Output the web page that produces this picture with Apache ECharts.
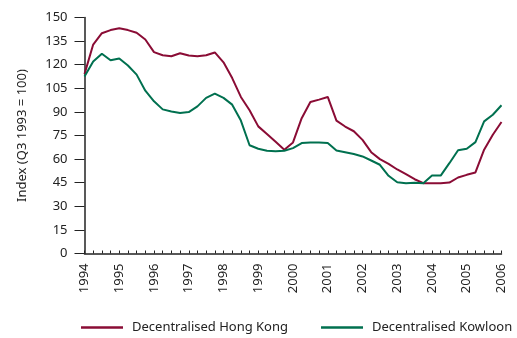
<!DOCTYPE html>
<html>
<head>
<meta charset="utf-8">
<script src="https://cdn.jsdelivr.net/npm/echarts@6/dist/echarts.min.js"></script>
<style>html,body{margin:0;padding:0;background:#fff}#c{width:517px;height:338px}</style>
</head>
<body>
<div id="c"></div>
<script>
// Quarterly categories 1994 Q1 .. 2006 Q1
const years = [1994,1995,1996,1997,1998,1999,2000,2001,2002,2003,2004,2005,2006];
const categories = [];
years.forEach(function(y, k){
  const nq = (k === years.length - 1) ? 1 : 4;
  for (let q = 1; q <= nq; q++) categories.push(y + ' Q' + q);
});
const hongKong = [114,132.8,140,142,143.2,142,140.3,136,128,126,125.4,127.3,125.8,125.4,126,127.8,
  121.5,111.5,99.5,91,80.8,76,71,66,70.6,86,96.3,97.8,99.5,84.5,80.7,77.7,72.2,64.4,60,57,
  53.4,50.4,47.2,44.7,44.7,44.7,45.1,48.3,50,51.5,66,75.5,83.6];
const kowloon = [112.5,122,127,122.8,124,119.5,113.7,103.5,96.7,91.6,90.3,89.3,89.9,93.5,98.9,101.6,
  98.9,94.6,84.5,68.8,66.6,65.3,65,65.3,67,70.2,70.6,70.6,70.2,65.5,64.4,63.2,61.7,59.1,56.4,49.4,
  45.3,44.7,45,44.7,49.5,49.5,57.4,65.6,66.6,70.8,84,88.2,94.2];
const seriesNames = ['Decentralised Hong Kong','Decentralised Kowloon'];
const yName = 'Index (Q3 1993 = 100)';

const RED = '#8a0c35', GREEN = '#00704f';
const FONT = 'Noto Sans';
const chart = echarts.init(document.getElementById('c'), null, {renderer:'canvas'});
chart.setOption({
  animation:false,
  textStyle:{fontFamily:FONT},
  grid:{left:84.5, right:15.5, top:17.5, bottom:84.5, containLabel:false},
  legend:{
    left:81, top:321, width:470, padding:0, itemGap:33, itemWidth:42, itemHeight:2.5, icon:'rect',
    textStyle:{fontFamily:FONT, fontSize:13, color:'#222', padding:[0,0,0,4]},
    data:seriesNames
  },
  xAxis:{
    type:'category', data:categories, boundaryGap:false,
    axisLine:{lineStyle:{color:'#222', width:1.5}},
    axisTick:{inside:true, length:3, interval:0, lineStyle:{color:'#222', width:1}},
    axisLabel:{
      interval:3, rotate:90, margin:10, color:'#222', fontSize:13, fontFamily:FONT,
      formatter:function(v){ return v.slice(0,4); }
    },
    splitLine:{show:false}
  },
  yAxis:{
    type:'value', min:0, max:150, interval:15,
    name:yName, nameLocation:'middle', nameRotate:90, nameGap:56,
    nameTextStyle:{fontSize:13, color:'#222', fontFamily:FONT},
    axisLine:{show:true, lineStyle:{color:'#222', width:1.5}},
    axisTick:{show:true, length:10, lineStyle:{color:'#222', width:1}},
    axisLabel:{margin:17, color:'#222', fontSize:13, fontFamily:FONT},
    splitLine:{show:false}
  },
  series:[
    {name:seriesNames[0], type:'line', data:hongKong, symbol:'none', lineStyle:{color:RED, width:2}, itemStyle:{color:RED}},
    {name:seriesNames[1], type:'line', data:kowloon, symbol:'none', lineStyle:{color:GREEN, width:2}, itemStyle:{color:GREEN}}
  ]
});
</script>
</body>
</html>
